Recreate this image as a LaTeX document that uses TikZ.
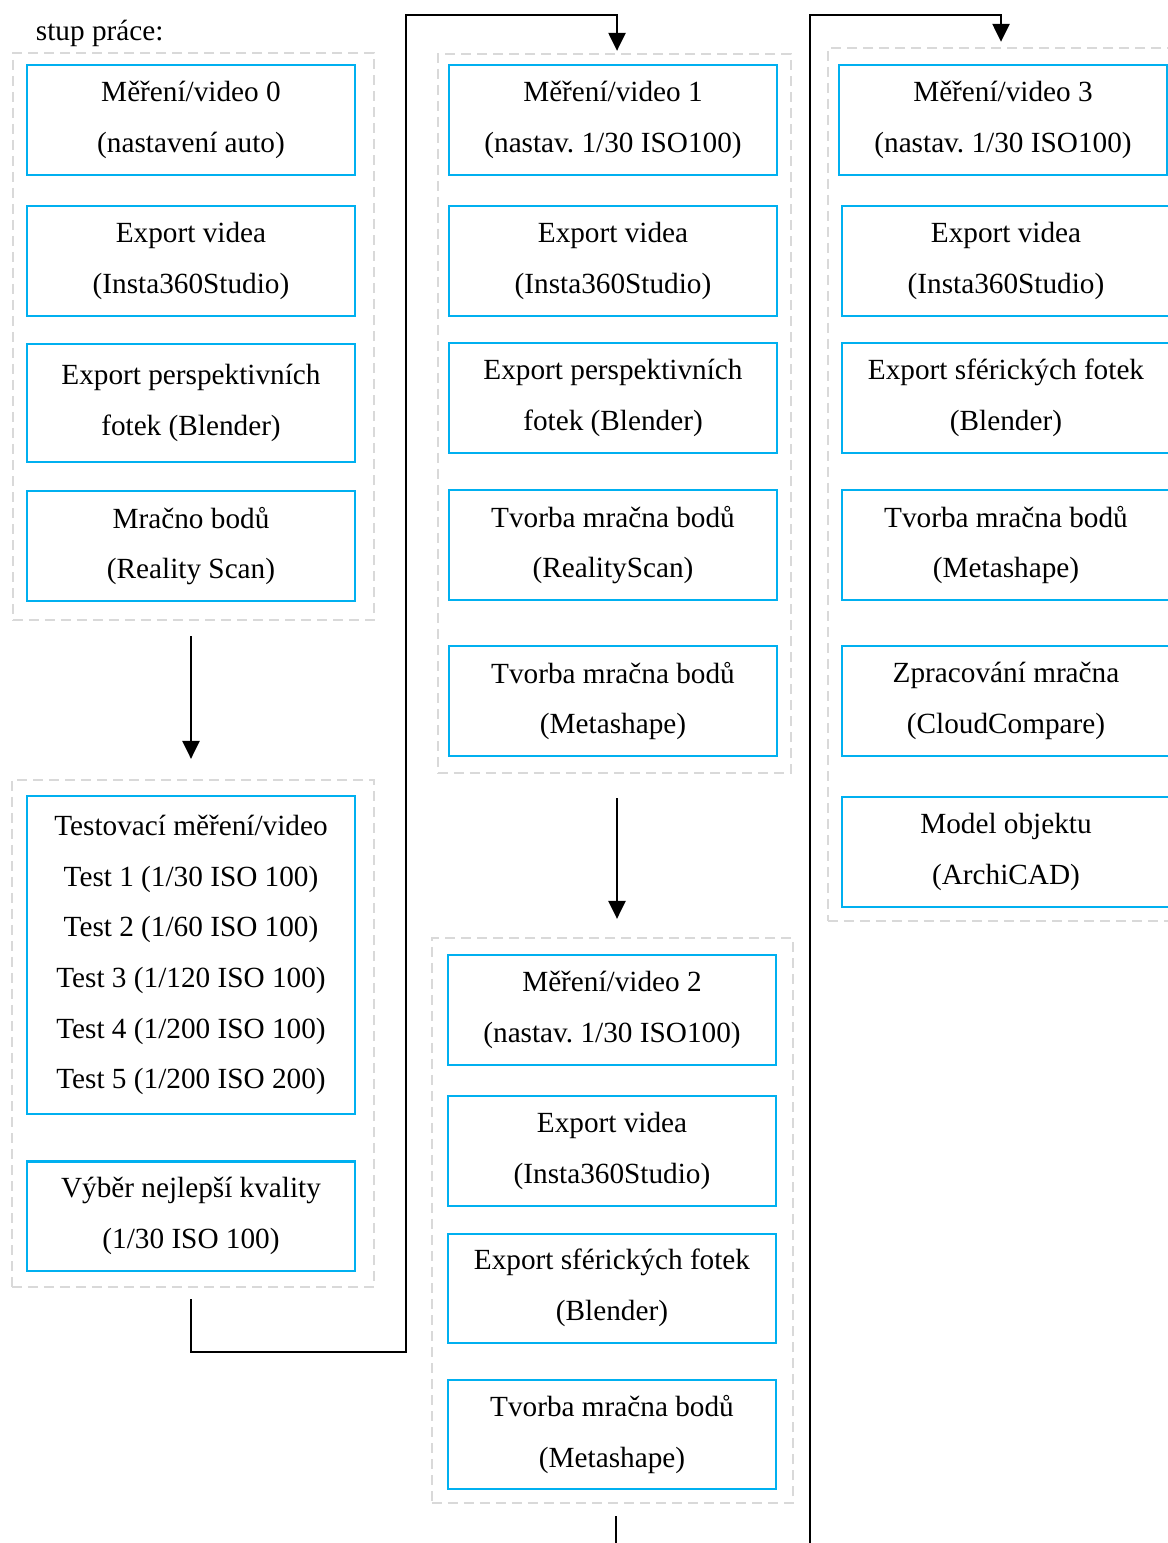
\documentclass[tikz,border=0pt]{standalone}
\usepackage{fontspec}
\setmainfont{Liberation Serif}
\usetikzlibrary{arrows.meta}
\definecolor{boxblue}{HTML}{00B0F0}
\definecolor{groupgray}{HTML}{D9D9D9}
\frenchspacing
\tikzset{stepbox/.style={draw=boxblue,line width=0.05cm,minimum width=8.2cm,minimum height=2.725cm,align=center,inner sep=0pt,font=\fontsize{20.8pt}{36pt}\selectfont}}
\tikzset{groupbox/.style={draw=groupgray,line width=0.05cm,dash pattern=on 0.25cm off 0.15cm,inner sep=0pt}}
\tikzset{flow/.style={line width=0.07cm,-{Triangle[length=0.45cm,width=0.42cm]}}}
\begin{document}
\begin{tikzpicture}[x=0.025cm,y=-0.025cm]
            \useasboundingbox (0,0) rectangle (1168,1543);
            \clip (0,0) rectangle (1168,1543);
            % title
            \node[anchor=base west,font=\fontsize{20.8pt}{36pt}\selectfont] (title) at (31,41) {stup práce:};
            % the dashed groups
            \node[groupbox,minimum width=9.025cm,minimum height=14.175cm] (g1) at (193.5,336.5) {};
            \node[groupbox,minimum width=9.05cm,minimum height=12.675cm] (g2) at (193,1033.5) {};
            \node[groupbox,minimum width=8.825cm,minimum height=17.975cm] (g3) at (614.5,413.5) {};
            \node[groupbox,minimum width=9.025cm,minimum height=14.125cm] (g4) at (612.5,1220.5) {};
            \node[groupbox,minimum width=9.05cm,minimum height=21.825cm] (g5) at (1009,484.5) {};
            % first column
            \node[stepbox] (a0) at (191,120) {Měření/video 0\\(nastavení auto)};
            \node[stepbox] (a1) at (191,261) {Export videa\\(Insta360Studio)};
            \node[stepbox,minimum height=2.95cm] (a2) at (191,403) {Export perspektivních\\fotek (Blender)};
            \node[stepbox] (a3) at (191,546) {Mračno bodů\\(Reality Scan)};
            \node[stepbox,minimum height=7.95cm] (b0) at (191,955) {Testovací měření/video\\Test 1 (1/30 ISO 100)\\Test 2 (1/60 ISO 100)\\Test 3 (1/120 ISO 100)\\Test 4 (1/200 ISO 100)\\Test 5 (1/200 ISO 200)};
            \node[stepbox] (b1) at (191,1216) {Výběr nejlepší kvality\\(1/30 ISO 100)};
            % second column
            \node[stepbox] (c0) at (613,120) {Měření/video 1\\(nastav. 1/30 ISO100)};
            \node[stepbox] (c1) at (613,261) {Export videa\\(Insta360Studio)};
            \node[stepbox] (c2) at (613,398) {Export perspektivních\\fotek (Blender)};
            \node[stepbox] (c3) at (613,545) {Tvorba mračna bodů\\(RealityScan)};
            \node[stepbox] (c4) at (613,701) {Tvorba mračna bodů\\(Metashape)};
            \node[stepbox] (d0) at (612,1010) {Měření/video 2\\(nastav. 1/30 ISO100)};
            \node[stepbox] (d1) at (612,1151) {Export videa\\(Insta360Studio)};
            \node[stepbox] (d2) at (612,1288) {Export sférických fotek\\(Blender)};
            \node[stepbox] (d3) at (612,1434.5) {Tvorba mračna bodů\\(Metashape)};
            % third column
            \node[stepbox] (e0) at (1003,120) {Měření/video 3\\(nastav. 1/30 ISO100)};
            \node[stepbox] (e1) at (1006,261) {Export videa\\(Insta360Studio)};
            \node[stepbox] (e2) at (1006,398) {Export sférických fotek\\(Blender)};
            \node[stepbox] (e3) at (1006,545) {Tvorba mračna bodů\\(Metashape)};
            \node[stepbox] (e4) at (1006,701) {Zpracování mračna\\(CloudCompare)};
            \node[stepbox] (e5) at (1006,852) {Model objektu\\(ArchiCAD)};
            % turning points of the long connectors
            \coordinate (jog1) at (406,1352);
            \coordinate (top1) at (406,15);
            \coordinate (low2) at (810,1600);
            \coordinate (top2) at (810,15);
            % draw the connectors
            \draw[flow,shorten <=0.375cm,shorten >=0.5cm] (g1.south -| a3.south) -- (g2.north -| a3.south);
            \draw[flow,shorten <=0.275cm,shorten >=0.05cm] (g2.south -| b1.south) |- (jog1) -- (top1) -| ([xshift=0.1cm]g3.north -| c0.north);
            \draw[flow,shorten <=0.6cm,shorten >=0.45cm] ([xshift=0.1cm]g3.south -| c4.south) -- ([xshift=0.1cm]g4.north -| c4.south);
            \draw[flow,shorten <=0.3cm,shorten >=0.125cm] ([xshift=0.1cm]g4.south -| d3.south) |- (low2) -- (top2) -| ([xshift=-0.05cm]g5.north -| e0.north);
        \end{tikzpicture}
\end{document}
